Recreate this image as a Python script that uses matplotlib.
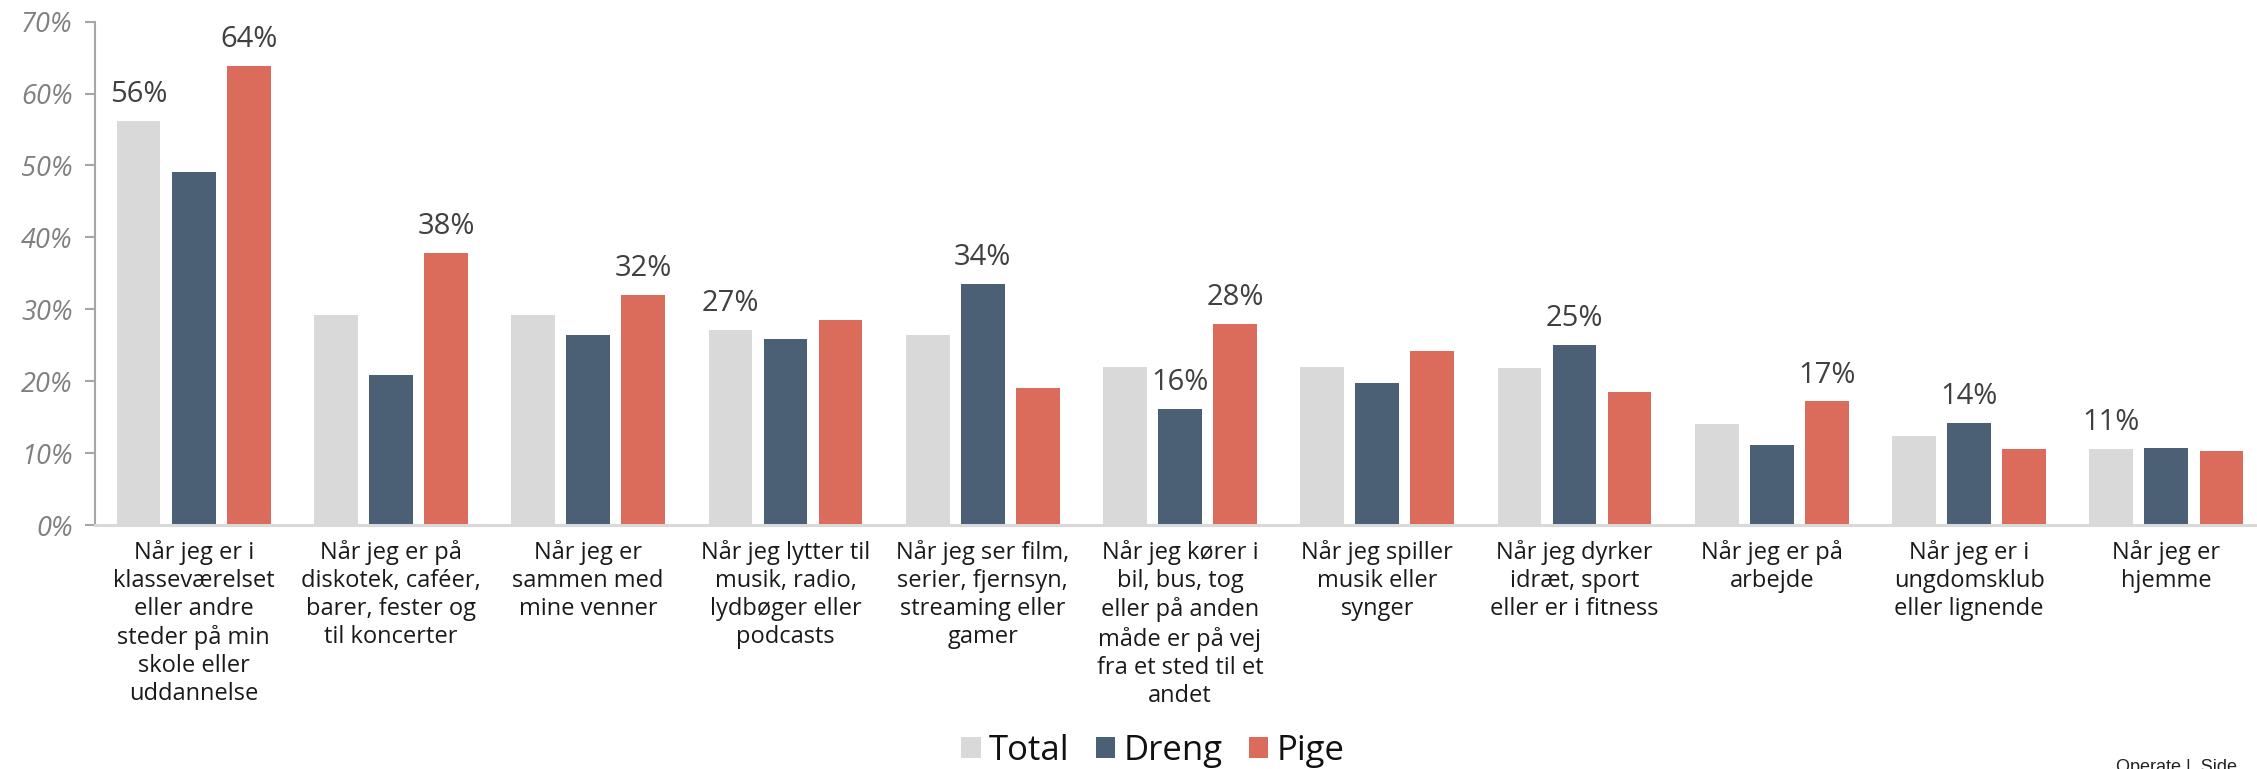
import matplotlib
matplotlib.use("Agg")
import matplotlib.pyplot as plt
import numpy as np

categories = [
    "Når jeg er i\nklasseværelset\neller andre\nsteder på min\nskole eller\nuddannelse",
    "Når jeg er på\ndiskotek, caféer,\nbarer, fester og\ntil koncerter",
    "Når jeg er\nsammen med\nmine venner",
    "Når jeg lytter til\nmusik, radio,\nlydbøger eller\npodcasts",
    "Når jeg ser film,\nserier, fjernsyn,\nstreaming eller\ngamer",
    "Når jeg kører i\nbil, bus, tog\neller på anden\nmåde er på vej\nfra et sted til et\nandet",
    "Når jeg spiller\nmusik eller\nsynger",
    "Når jeg dyrker\nidræt, sport\neller er i fitness",
    "Når jeg er på\narbejde",
    "Når jeg er i\nungdomsklub\neller lignende",
    "Når jeg er\nhjemme",
]
series_names = ["Total", "Dreng", "Pige"]
total = [56.2, 29.2, 29.2, 27.1, 26.4, 22.0, 22.0, 21.8, 14.1, 12.4, 10.6]
dreng = [49.1, 20.9, 26.4, 25.8, 33.5, 16.1, 19.7, 25.0, 11.1, 14.2, 10.7]
pige = [63.8, 37.8, 32.0, 28.5, 19.1, 28.0, 24.2, 18.5, 17.2, 10.5, 10.3]
# bars carrying a value label: (category index, series index)
labeled = [(0, 0), (0, 2), (1, 2), (2, 2), (3, 0), (4, 1), (5, 1), (5, 2),
           (7, 1), (8, 2), (9, 1), (10, 0)]
yticks = [0, 10, 20, 30, 40, 50, 60, 70]

colors = ["#d9d9d9", "#4b6075", "#db6b5a"]
font = ["Open Sans", "DejaVu Sans"]
plt.rcParams["font.family"] = font

W, H = 2257, 769
fig = plt.figure(figsize=(W / 100, H / 100), dpi=100)
ax = fig.add_axes([95 / W, (H - 525) / H, 2170 / W, (525 - 21.6) / H])

x = np.arange(len(categories))
offs = [-0.279, 0.0, 0.279]
width = 0.222
data = [total, dreng, pige]
bars = []
for i, (name, vals) in enumerate(zip(series_names, data)):
    b = ax.bar(x + offs[i], vals, width=width, color=colors[i], label=name,
               linewidth=0, zorder=2)
    bars.append(b)

for (g, s) in labeled:
    v = data[s][g]
    ax.annotate(f"{v:.0f}%", (x[g] + offs[s], v), xytext=(0, 13.5),
                textcoords="offset points", ha="center", va="baseline",
                fontsize=21, color="#404040")

ax.set_xlim(-0.5, len(categories) - 0.5)
ax.set_ylim(0, 70)
ax.set_yticks(yticks)
ax.set_yticklabels([f"{t}%" for t in yticks], fontsize=19.5, style="italic",
                   color="#808080")
ax.set_xticks(x)
ax.set_xticklabels(categories, fontsize=17, color="#1a1a1a", linespacing=1.22,
                   va="top")
ax.tick_params(axis="x", length=0, pad=11)
ax.tick_params(axis="y", length=7, width=1.5, color="#a6a6a6", pad=9)
for sp in ["top", "right"]:
    ax.spines[sp].set_visible(False)
ax.spines["left"].set_color("#a6a6a6")
ax.spines["left"].set_linewidth(1.5)
ax.spines["bottom"].set_color("#d9d9d9")
ax.spines["bottom"].set_linewidth(2.2)

fig.legend(handles=bars, labels=series_names, loc="center",
           bbox_to_anchor=(1153 / W, (H - 751) / H), ncol=3, frameon=False,
           fontsize=25, handlelength=0.55, handleheight=0.55,
           handletextpad=0.25, columnspacing=0.75, labelcolor="#111111")

fig.text(2116 / W, -0.004, "Operate |  Side", fontsize=13, color="#222222",
         family=["Liberation Sans", "DejaVu Sans"], ha="left", va="baseline")

fig.savefig("out.png", dpi=100)
